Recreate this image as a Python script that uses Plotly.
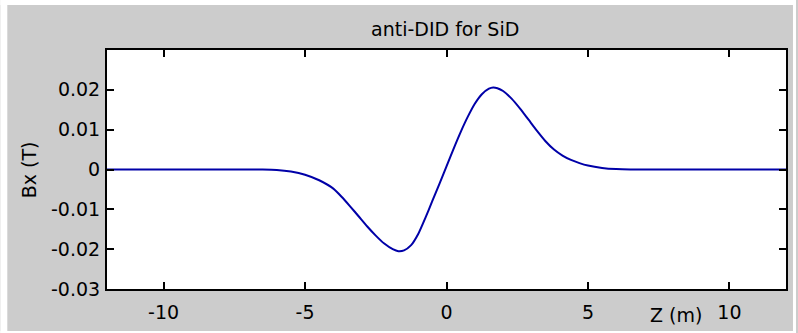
import plotly.graph_objects as go

z_m = [-12, -7, -6.5, -6.0, -5.5, -5.0, -4.5, -4.0, -3.7, -3.4, -3.1, -2.8, -2.5, -2.2, -1.9,
       -1.7, -1.5, -1.25, -1.0, -0.75, -0.5, -0.25, 0, 0.25, 0.5, 0.75, 1.0, 1.25, 1.5, 1.65,
       1.8, 2.0, 2.3, 2.6, 2.9, 3.2, 3.5, 3.8, 4.1, 4.4, 4.7, 5.0, 5.5, 6.0, 6.5, 7, 12]
bx_T = [0, 0, 0, -0.0001, -0.0005, -0.0013, -0.0027, -0.0048, -0.0069, -0.0093, -0.0118,
        -0.0143, -0.0166, -0.0186, -0.0200, -0.0205, -0.0203, -0.0190, -0.0162, -0.0122,
        -0.0079, -0.0036, 0.0008, 0.0052, 0.0094, 0.0132, 0.0165, 0.0189, 0.0203, 0.0206,
        0.0204, 0.0197, 0.0178, 0.0153, 0.0125, 0.0097, 0.0071, 0.0050, 0.0035, 0.0024,
        0.0016, 0.0010, 0.0004, 0.0001, 0, 0, 0]

x_ticks = [-10, -5, 0, 5, 10]
x_labels = ["-10", "-5", "0", "5", "10"]
y_ticks = [-0.03, -0.02, -0.01, 0, 0.01, 0.02]
y_labels = ["-0.03", "-0.02", "-0.01", "0", "0.01", "0.02"]

W, H = 798, 333
L, R, T, B = 107, 10, 50, 44
pw, ph = W - L - R, H - T - B

FONT = "DejaVu Sans"
FS = 19

fig = go.Figure()
fig.add_trace(go.Scatter(x=z_m, y=bx_T, mode="lines",
                         line=dict(color="#0000a8", width=2, shape="spline", smoothing=0.6),
                         showlegend=False, hoverinfo="skip"))

axis_common = dict(showline=True, linecolor="black", linewidth=2, mirror="ticks",
                   ticks="inside", ticklen=7, tickwidth=2, tickcolor="black",
                   showgrid=False, zeroline=False,
                   tickfont=dict(family=FONT, size=FS, color="black"))

fig.update_xaxes(range=[-12, 12], tickvals=x_ticks, ticktext=x_labels,
                 ticklabelstandoff=5, **axis_common)
fig.update_yaxes(range=[-0.03, 0.03], tickvals=y_ticks, ticktext=y_labels,
                 ticklabelstandoff=1, **axis_common)

def px_x(p):
    return (p - L) / pw

def px_y(p):
    return (H - B - p) / ph

shapes = []
for x0, y0, x1, y1 in [(0, 0, W, 5), (0, 0, 7, H), (795, 0, W, H), (0, 331, W, H)]:
    shapes.append(dict(type="rect", xref="paper", yref="paper",
                       x0=px_x(x0), x1=px_x(x1), y0=px_y(y1), y1=px_y(y0),
                       fillcolor="white", line=dict(width=0), layer="below"))

fig.update_layout(
    width=W, height=H,
    margin=dict(l=L, r=R, t=T, b=B),
    paper_bgcolor="#cccccc", plot_bgcolor="white",
    font=dict(family=FONT, size=FS, color="black"),
    shapes=shapes,
    annotations=[
        dict(text="anti-DID for SiD", xref="paper", yref="paper", x=px_x(446), y=px_y(29),
             xanchor="center", yanchor="middle", showarrow=False,
             font=dict(family=FONT, size=FS, color="black")),
        dict(text="Z (m)", xref="paper", yref="paper", x=px_x(678), y=px_y(315),
             xanchor="center", yanchor="middle", showarrow=False,
             font=dict(family=FONT, size=FS, color="black")),
        dict(text="Bx (T)", xref="paper", yref="paper", x=px_x(29), y=px_y(170),
             xanchor="center", yanchor="middle", showarrow=False, textangle=-90,
             font=dict(family=FONT, size=FS, color="black")),
    ],
)

fig.write_html("out.html")
